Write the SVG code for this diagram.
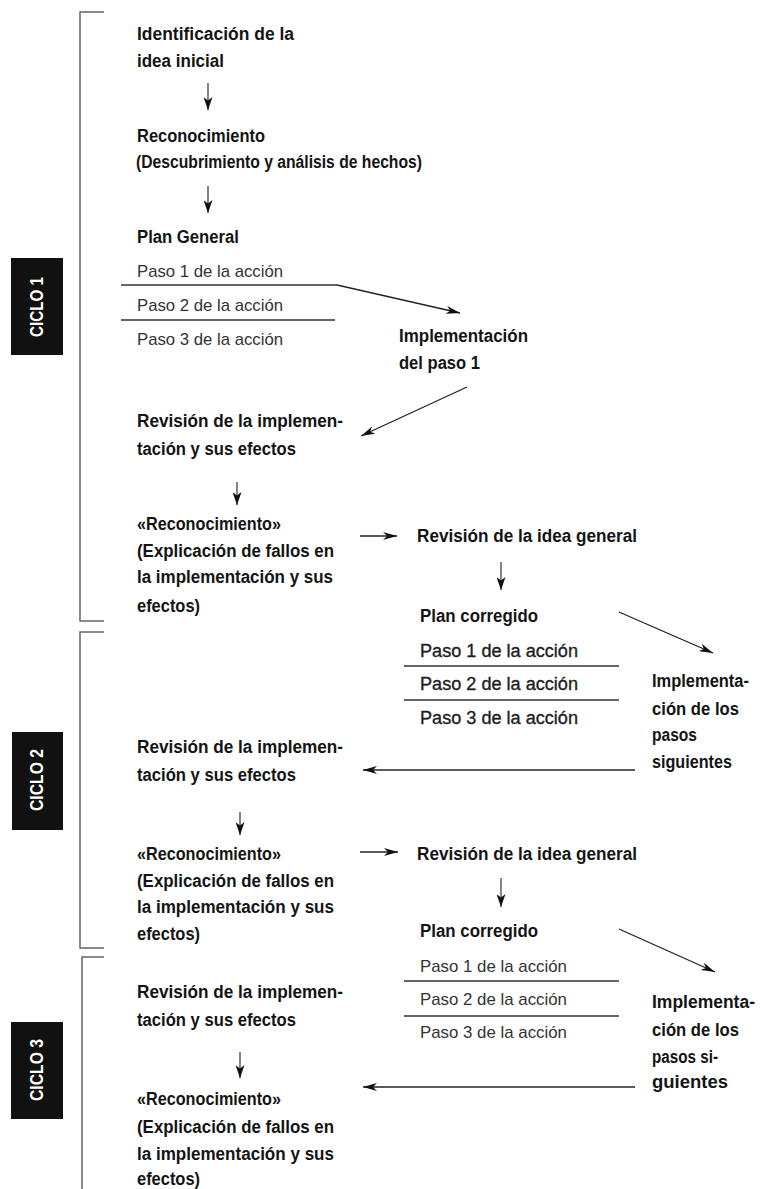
<svg xmlns="http://www.w3.org/2000/svg" width="765" height="1189" viewBox="0 0 765 1189">
<style>
text{font-family:"Liberation Sans",Arial,sans-serif}
.b{font-size:18px;font-weight:bold;fill:#141414}
.pl{font-size:17px;fill:#333}
.pm{font-size:18px;fill:#1e1e1e;stroke:#1e1e1e;stroke-width:0.35}
.rule{stroke:#333;stroke-width:1.3;fill:none}
.br{stroke:#666;stroke-width:1.5;fill:none}
.c{stroke:#222;stroke-width:1.3;fill:none;marker-end:url(#ah)}
.d{stroke:#222;stroke-width:1.1;fill:none;marker-end:url(#ad)}
.lab{font-size:18px;font-weight:bold;fill:#fff}
</style>
<defs>
<marker id="ah" viewBox="0 0 14 8" refX="14" refY="4" markerWidth="14" markerHeight="8" markerUnits="userSpaceOnUse" orient="auto">
<path d="M0,0 L14,4 L0,8 L4,4 z" fill="#111"/>
</marker>
<marker id="ad" viewBox="0 0 13 9" refX="13" refY="4.5" markerWidth="13" markerHeight="9" markerUnits="userSpaceOnUse" orient="auto">
<path d="M0,0 L13,4.5 L0,9 L3.5,4.5 z" fill="#111"/>
</marker>
</defs>
<rect width="765" height="1189" fill="#fff"/>

<g id="brackets">
<path class="br" d="M104,12 H80 V621 H104"/>
<path class="br" d="M104,632 H80 V948 H104"/>
<path class="br" d="M104,957 H82 V1189"/>
</g>

<g id="ciclo1"><rect x="11" y="258" width="52" height="97" fill="#111"/><text class="lab" transform="translate(43,307) rotate(-90)" text-anchor="middle" textLength="60" lengthAdjust="spacingAndGlyphs">CICLO 1</text></g>
<g id="ciclo2"><rect x="12" y="732" width="51" height="98" fill="#111"/><text class="lab" transform="translate(43,780) rotate(-90)" text-anchor="middle" textLength="62" lengthAdjust="spacingAndGlyphs">CICLO 2</text></g>
<g id="ciclo3"><rect x="11" y="1022" width="52" height="97" fill="#111"/><text class="lab" transform="translate(43,1070) rotate(-90)" text-anchor="middle" textLength="62" lengthAdjust="spacingAndGlyphs">CICLO 3</text></g>

<g id="n-idea">
<text class="b" x="137" y="40" textLength="157" lengthAdjust="spacingAndGlyphs">Identificación de la</text>
<text class="b" x="137" y="67" textLength="87" lengthAdjust="spacingAndGlyphs">idea inicial</text>
</g>
<g id="n-reconocimiento">
<text class="b" x="137" y="142" textLength="128" lengthAdjust="spacingAndGlyphs">Reconocimiento</text>
<text class="b" x="136" y="168" textLength="286" lengthAdjust="spacingAndGlyphs">(Descubrimiento y análisis de hechos)</text>
</g>
<g id="n-plan-general">
<text class="b" x="137" y="243" textLength="102" lengthAdjust="spacingAndGlyphs">Plan General</text>
<text class="pl" x="137" y="277" textLength="146" lengthAdjust="spacingAndGlyphs">Paso 1 de la acción</text>
<line class="rule" x1="121" y1="285" x2="337" y2="285"/>
<text class="pl" x="137" y="311" textLength="146" lengthAdjust="spacingAndGlyphs">Paso 2 de la acción</text>
<line class="rule" x1="121" y1="320" x2="335" y2="320"/>
<text class="pl" x="137" y="345" textLength="146" lengthAdjust="spacingAndGlyphs">Paso 3 de la acción</text>
</g>
<g id="n-impl1">
<text class="b" x="399" y="342" textLength="129" lengthAdjust="spacingAndGlyphs">Implementación</text>
<text class="b" x="399" y="369" textLength="81" lengthAdjust="spacingAndGlyphs">del paso 1</text>
</g>
<g id="n-rev1">
<text class="b" x="137" y="427" textLength="206" lengthAdjust="spacingAndGlyphs">Revisión de la implemen-</text>
<text class="b" x="137" y="455" textLength="159" lengthAdjust="spacingAndGlyphs">tación y sus efectos</text>
</g>
<g id="n-recon1">
<text class="b" x="137" y="530" textLength="144" lengthAdjust="spacingAndGlyphs">«Reconocimiento»</text>
<text class="b" x="137" y="557" textLength="197" lengthAdjust="spacingAndGlyphs">(Explicación de fallos en</text>
<text class="b" x="137" y="583" textLength="196" lengthAdjust="spacingAndGlyphs">la implementación y sus</text>
<text class="b" x="137" y="612" textLength="63" lengthAdjust="spacingAndGlyphs">efectos)</text>
</g>
<g id="n-revidea1">
<text class="b" x="417" y="542" textLength="220" lengthAdjust="spacingAndGlyphs">Revisión de la idea general</text>
</g>
<g id="n-plan2">
<text class="b" x="420" y="622" textLength="118" lengthAdjust="spacingAndGlyphs">Plan corregido</text>
<text class="pm" x="420" y="657" textLength="158" lengthAdjust="spacingAndGlyphs">Paso 1 de la acción</text>
<line class="rule" x1="404" y1="666" x2="619" y2="666"/>
<text class="pm" x="420" y="690" textLength="158" lengthAdjust="spacingAndGlyphs">Paso 2 de la acción</text>
<line class="rule" x1="404" y1="700" x2="619" y2="700"/>
<text class="pm" x="420" y="724" textLength="158" lengthAdjust="spacingAndGlyphs">Paso 3 de la acción</text>
</g>
<g id="n-impl2">
<text class="b" x="652" y="687" textLength="97" lengthAdjust="spacingAndGlyphs">Implementa-</text>
<text class="b" x="652" y="715" textLength="87" lengthAdjust="spacingAndGlyphs">ción de los</text>
<text class="b" x="652" y="741" textLength="45" lengthAdjust="spacingAndGlyphs">pasos</text>
<text class="b" x="652" y="768" textLength="80" lengthAdjust="spacingAndGlyphs">siguientes</text>
</g>
<g id="n-rev2">
<text class="b" x="137" y="753" textLength="206" lengthAdjust="spacingAndGlyphs">Revisión de la implemen-</text>
<text class="b" x="137" y="781" textLength="159" lengthAdjust="spacingAndGlyphs">tación y sus efectos</text>
</g>
<g id="n-recon2">
<text class="b" x="137" y="860" textLength="144" lengthAdjust="spacingAndGlyphs">«Reconocimiento»</text>
<text class="b" x="137" y="887" textLength="197" lengthAdjust="spacingAndGlyphs">(Explicación de fallos en</text>
<text class="b" x="137" y="913" textLength="197" lengthAdjust="spacingAndGlyphs">la implementación y sus</text>
<text class="b" x="137" y="940" textLength="63" lengthAdjust="spacingAndGlyphs">efectos)</text>
</g>
<g id="n-revidea2">
<text class="b" x="417" y="860" textLength="220" lengthAdjust="spacingAndGlyphs">Revisión de la idea general</text>
</g>
<g id="n-plan3">
<text class="b" x="420" y="937" textLength="118" lengthAdjust="spacingAndGlyphs">Plan corregido</text>
<text class="pl" x="420" y="972" textLength="147" lengthAdjust="spacingAndGlyphs">Paso 1 de la acción</text>
<line class="rule" x1="404" y1="981" x2="619" y2="981"/>
<text class="pl" x="420" y="1005" textLength="147" lengthAdjust="spacingAndGlyphs">Paso 2 de la acción</text>
<line class="rule" x1="404" y1="1016" x2="619" y2="1016"/>
<text class="pl" x="420" y="1038" textLength="147" lengthAdjust="spacingAndGlyphs">Paso 3 de la acción</text>
</g>
<g id="n-impl3">
<text class="b" x="652" y="1008" textLength="103" lengthAdjust="spacingAndGlyphs">Implementa-</text>
<text class="b" x="652" y="1036" textLength="87" lengthAdjust="spacingAndGlyphs">ción de los</text>
<text class="b" x="652" y="1063" textLength="66" lengthAdjust="spacingAndGlyphs">pasos si-</text>
<text class="b" x="652" y="1088" textLength="76" lengthAdjust="spacingAndGlyphs">guientes</text>
</g>
<g id="n-rev3">
<text class="b" x="137" y="998" textLength="206" lengthAdjust="spacingAndGlyphs">Revisión de la implemen-</text>
<text class="b" x="137" y="1026" textLength="159" lengthAdjust="spacingAndGlyphs">tación y sus efectos</text>
</g>
<g id="n-recon3">
<text class="b" x="137" y="1105" textLength="144" lengthAdjust="spacingAndGlyphs">«Reconocimiento»</text>
<text class="b" x="137" y="1133" textLength="197" lengthAdjust="spacingAndGlyphs">(Explicación de fallos en</text>
<text class="b" x="137" y="1160" textLength="197" lengthAdjust="spacingAndGlyphs">la implementación y sus</text>
<text class="b" x="137" y="1185" textLength="63" lengthAdjust="spacingAndGlyphs">efectos)</text>
</g>

<g id="connectors">
<line class="d" x1="208" y1="83" x2="208" y2="110"/>
<line class="d" x1="208" y1="186" x2="208" y2="213"/>
<path class="c" d="M337,285 L460,313"/>
<path class="c" d="M467,387 L361,436"/>
<line class="d" x1="237" y1="482" x2="237" y2="505"/>
<line class="c" x1="360" y1="536" x2="397" y2="536"/>
<line class="d" x1="501" y1="562" x2="501" y2="590"/>
<path class="c" d="M619,612 L713,653"/>
<line class="c" x1="635" y1="770" x2="363" y2="770"/>
<line class="d" x1="240" y1="812" x2="240" y2="835"/>
<line class="c" x1="360" y1="852" x2="398" y2="852"/>
<line class="d" x1="501" y1="878" x2="501" y2="907"/>
<path class="c" d="M619,929 L715,972"/>
<line class="c" x1="635" y1="1087" x2="363" y2="1087"/>
<line class="d" x1="240" y1="1052" x2="240" y2="1078"/>
</g>
</svg>
